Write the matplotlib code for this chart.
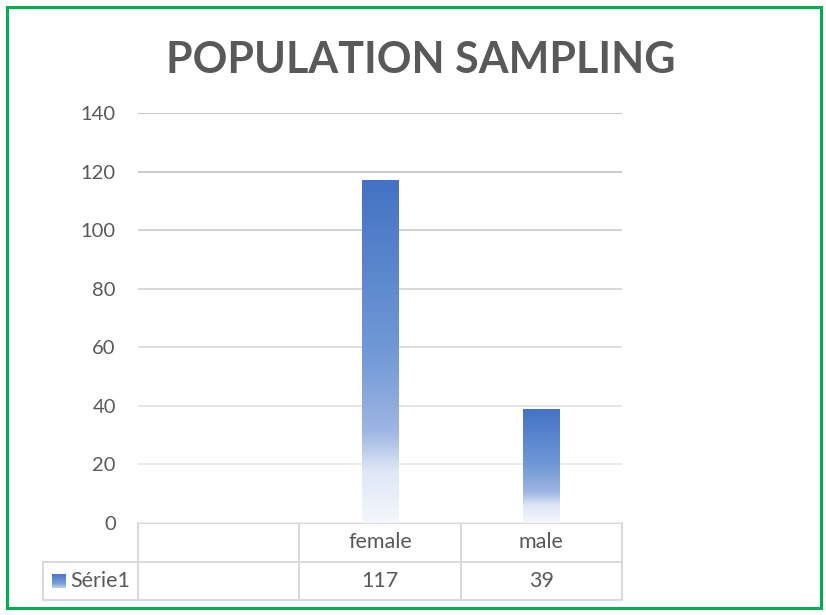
import numpy as np
import matplotlib as mpl
import matplotlib.pyplot as plt
from matplotlib.colors import LinearSegmentedColormap
from matplotlib.patches import Rectangle

# data
categories = ["", "female", "male"]
values = [np.nan, 117, 39]
series_name = "Série1"
yticks = [0, 20, 40, 60, 80, 100, 120, 140]
title = "POPULATION SAMPLING"

plt.rcParams["font.family"] = ["Lato", "DejaVu Sans"]
text_color = "#595959"

# bottom (white) -> top (blue) gradient used for the bars
bar_cmap = LinearSegmentedColormap.from_list(
    "bar_grad",
    [(0.0, "#f4f7fc"), (0.15, "#dfe7f6"), (0.27, "#9db5e2"),
     (0.5, "#7199d6"), (1.0, "#4472c4")],
)
key_cmap = LinearSegmentedColormap.from_list(
    "key_grad", [(0.0, "#c3d2ef"), (0.3, "#7c9fda"), (1.0, "#4472c4")]
)
grad = np.linspace(0, 1, 256).reshape(-1, 1)

fig = plt.figure(figsize=(8.26, 6.15), dpi=100)
ax = fig.add_axes([138 / 826, 1 - 523 / 615, 484 / 826, 410 / 615])

x = np.arange(len(categories))
bars = ax.bar(x, values, width=0.225, facecolor="none", edgecolor="none")
for b in bars:
    h = b.get_height()
    if not np.isfinite(h) or h <= 0:
        continue
    x0 = b.get_x()
    im = ax.imshow(grad, cmap=bar_cmap, origin="lower", aspect="auto",
                   extent=(x0, x0 + b.get_width(), 0, h), zorder=3)
    im.set_clip_path(b)

ax.set_xlim(-0.5, len(categories) - 0.5)
ax.set_ylim(0, 140)
ax.set_yticks(yticks)
ax.set_xticks([])
ax.tick_params(axis="y", length=0, pad=16, labelsize=14.5, labelcolor=text_color)
for s in ax.spines.values():
    s.set_visible(False)

# grid lines fade from darker at the top to lighter near the bottom
ax.grid(axis="y", linewidth=1.3, zorder=0)
for line, v in zip(ax.get_ygridlines(), yticks):
    g = 0.94 - 0.18 * (v / 140)
    line.set_color((g, g, g))

# data table below the plot (first column holds the series label)
col_w = 1 / len(categories)
label_w = 95 / 484
row_h = 77 / 410
header = [""] + categories
row = [series_name] + ["" if np.isnan(v) else f"{v:.0f}" for v in values]
tbl = ax.table(
    cellText=[header, row],
    colWidths=[label_w] + [col_w] * len(categories),
    cellLoc="center",
    bbox=[-label_w, -row_h, 1 + label_w, row_h],
)
tbl.auto_set_font_size(False)
tbl.set_fontsize(15.5)
for (r, c), cell in tbl.get_celld().items():
    cell.set_edgecolor("#d9d9d9")
    cell.set_linewidth(1.4)
    cell.get_text().set_color(text_color)
    if c == 0:
        cell.PAD = 0.29
        cell.get_text().set_horizontalalignment("left")
        cell._loc = "left"
tbl[0, 0].visible_edges = ""

# legend key in the table row label
kax = fig.add_axes([52 / 826, 1 - 588 / 615, 14 / 826, 14 / 615])
kax.imshow(grad, cmap=key_cmap, origin="lower", aspect="auto")
kax.axis("off")

fig.text(0.509, 0.903, title, ha="center", va="center", fontsize=31,
         fontweight="bold", color=text_color)

fig.patches.append(Rectangle((7 / 826, 1 - 608 / 615), 814 / 826, 601 / 615,
                             transform=fig.transFigure, fill=False,
                             edgecolor="#00b050", linewidth=2.2))

fig.savefig("out.png", dpi=100)
